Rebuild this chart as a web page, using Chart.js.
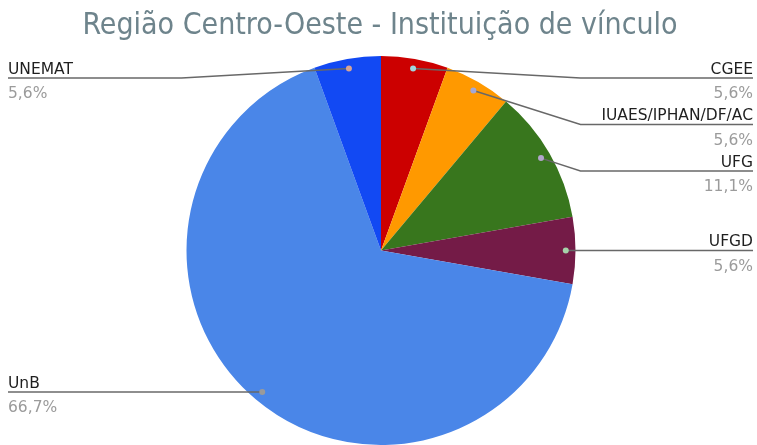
<!DOCTYPE html>
<html>
<head>
<meta charset="utf-8">
<script src="https://cdn.jsdelivr.net/npm/chart.js@4/dist/chart.umd.min.js"></script>
<style>
html,body{margin:0;padding:0;background:#fff;overflow:hidden;}
#wrap{width:757px;height:445px;position:relative;}
</style>
</head>
<body>
<div id="wrap"><canvas id="c" width="757" height="445"></canvas></div>
<script>
const chartTitle = 'Região Centro-Oeste - Instituição de vínculo';
const categories = ['CGEE', 'IUAES/IPHAN/DF/AC', 'UFG', 'UFGD', 'UnB', 'UNEMAT'];
const values = [1, 1, 2, 1, 12, 1];
const sliceColors = ['#cc0000', '#ff9900', '#38761d', '#741b47', '#4a86e8', '#1249f3'];
const dotColors = ['#9fd6de', '#a3a8d6', '#b2a6cc', '#a6d2aa', '#9a9a9a', '#d8a494'];

const total = values.reduce((a, b) => a + b, 0);
const pctText = values.map(v => (v / total * 100).toFixed(1).replace('.', ',') + '%');

const labelPlugin = {
  id: 'labelPlugin',
  afterDatasetsDraw(chart) {
    const ctx = chart.ctx;
    const meta = chart.getDatasetMeta(0);
    const W = chart.width;
    // title
    ctx.save();
    ctx.font = '30px "DejaVu Sans Condensed", "DejaVu Sans", sans-serif';
    ctx.fillStyle = '#6e848c';
    ctx.textAlign = 'center';
    ctx.textBaseline = 'alphabetic';
    ctx.fillText(chartTitle, 380, 34);
    ctx.restore();

    const items = meta.data.map((arc, i) => {
      const p = arc.getProps(['x', 'y', 'startAngle', 'endAngle', 'outerRadius']);
      const mid = (p.startAngle + p.endAngle) / 2;
      const r = p.outerRadius * 0.95;
      const dx = p.x + Math.cos(mid) * r;
      const dy = p.y + Math.sin(mid) * r;
      return {i, cx: p.x, R: p.outerRadius, mid, dx, dy, right: Math.cos(mid) >= -1e-6};
    });
    ['right', 'left'].forEach(side => {
      const group = items.filter(it => (side === 'right') === it.right).sort((a, b) => a.dy - b.dy);
      let prev = -Infinity;
      group.forEach(it => {
        let ly = Math.max(it.dy, 78, prev + 46.5);
        it.ly = ly;
        prev = ly;
      });
    });
    ctx.save();
    items.forEach(it => {
      const elbowX = it.right ? it.cx + it.R + 5 : it.cx - it.R - 5;
      const endX = it.right ? W - 4 : 8;
      ctx.strokeStyle = '#686868';
      ctx.lineWidth = 1.5;
      ctx.beginPath();
      ctx.moveTo(it.dx, it.dy);
      if (Math.abs(it.ly - it.dy) > 0.5) {
        ctx.lineTo(elbowX, it.ly);
      }
      ctx.lineTo(endX, it.ly);
      ctx.stroke();
      ctx.fillStyle = dotColors[it.i];
      ctx.beginPath();
      ctx.arc(it.dx, it.dy, 3, 0, Math.PI * 2);
      ctx.fill();
      ctx.font = '15.5px "DejaVu Sans", sans-serif';
      ctx.textBaseline = 'alphabetic';
      ctx.textAlign = it.right ? 'right' : 'left';
      ctx.fillStyle = '#1f1f1f';
      ctx.fillText(categories[it.i], endX, it.ly - 4.5);
      ctx.fillStyle = '#9b9b9b';
      ctx.fillText(pctText[it.i], endX, it.ly + 20);
    });
    ctx.restore();
  }
};

new Chart(document.getElementById('c'), {
  type: 'pie',
  data: {
    labels: categories,
    datasets: [{
      data: values,
      backgroundColor: sliceColors,
      borderWidth: 0
    }]
  },
  options: {
    responsive: false,
    animation: false,
    events: [],
    layout: {padding: {top: 56, bottom: -3, left: 5, right: 0}},
    plugins: {
      legend: {display: false},
      tooltip: {enabled: false},
      title: {display: false}
    }
  },
  plugins: [labelPlugin]
});
</script>
</body>
</html>
